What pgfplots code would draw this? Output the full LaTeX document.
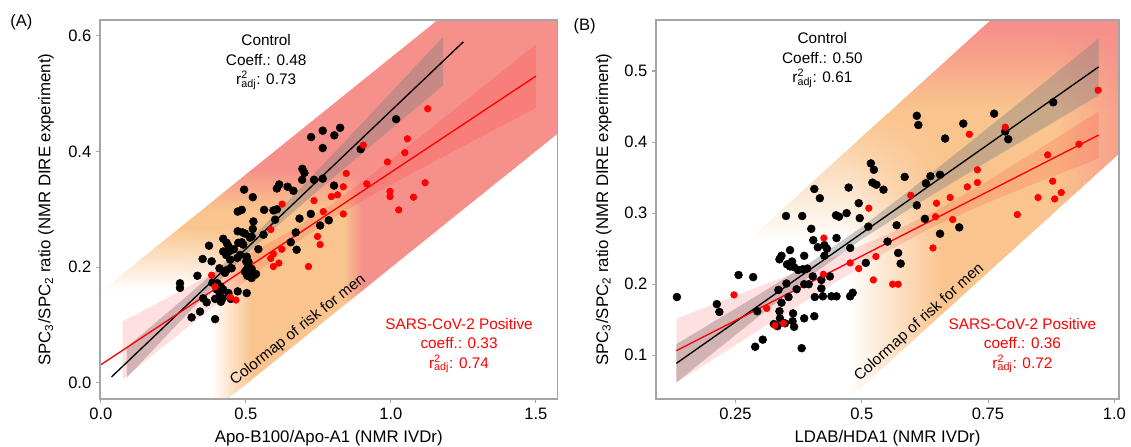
\documentclass[border=0pt]{standalone}
\usepackage{fontspec}
\setmainfont{Liberation Sans}
\usepackage{pgfplots}
\pgfplotsset{compat=1.18}
\usetikzlibrary{fadings}
\definecolor{bandorange}{RGB}{250,196,142}
\definecolor{bandred}{RGB}{246,144,138}
\definecolor{bandsalmon}{RGB}{247,157,139}
\definecolor{spinegray}{RGB}{165,165,165}
\definecolor{pred}{RGB}{255,0,0}

% horizontal colormaps of the two bands (25bp = left edge, 75bp = right edge of the path)
\pgfdeclarehorizontalshading{bandA}{100bp}{color(0bp)=(white); color(28.03bp)=(white);
  color(33.33bp)=(bandorange); color(45.45bp)=(bandorange); color(47.73bp)=(bandred); color(100bp)=(bandred)}
\pgfdeclarehorizontalshading{bandB}{100bp}{color(0bp)=(white); color(41.46bp)=(white);
  color(53.05bp)=(bandorange); color(66.46bp)=(bandorange); color(75bp)=(bandsalmon); color(100bp)=(bandsalmon)}

\pgfplotsset{
  panel/.style={
    scale only axis, height=284.25pt, axis on top,
    axis line style={spinegray, line width=0.8pt},
    tick align=outside, tick pos=left, major tick length=3pt,
    tick style={spinegray, line width=0.8pt},
    ticklabel style={font=\fontsize{12.4}{14}\selectfont},
    label style={font=\fontsize{12.6}{15}\selectfont},
    ylabel={SPC\textsubscript{3}/SPC\textsubscript{2} ratio (NMR DIRE experiment)},
    xlabel style={at={(axis description cs:0.5,-0.103)}, anchor=center},
  },
  ctl/.style={only marks, mark=*, color=black, mark size=2.95pt, mark options={line width=0.4pt}},
  pos/.style={only marks, mark=*, color=pred, mark size=2.5pt, mark options={line width=0.4pt}},
  band/.style={draw=none, forget plot},
  cigray/.style={draw=none, fill=gray, fill opacity=0.4},
  cired/.style={draw=none, fill=pred, fill opacity=0.12},
}
\newcommand{\annot}{\fontsize{11.5}{14.6}\selectfont}
\newcommand{\radj}{r\rlap{\textsuperscript{2}}\textsubscript{adj}}

\begin{document}
\begin{tikzpicture}
\useasboundingbox (0,0) rectangle (848.25pt,334.5pt);

% ---------------- panel A ----------------
\begin{axis}[panel, at={(75pt,35.25pt)}, anchor=south west, width=343.1pt,
  xmin=-0.0028, xmax=1.5743, ymin=-0.0282, ymax=0.6275,
  xtick={0,0.5,1,1.5}, xticklabels={0.0,0.5,1.0,1.5},
  ytick={0,0.2,0.4,0.6}, yticklabels={0.0,0.2,0.4,0.6},
  xlabel={Apo-B100/Apo-A1 (NMR IVDr)},
  ylabel style={at={(axis description cs:-0.118,0.5)}, anchor=center},
]
% colormap band
\addplot[band, shading=bandA] coordinates {(0.30,-0.0838)(1.62,0.4495)(1.62,0.8125)(0.30,0.2792)} -- cycle;
\addplot[band, fill=bandorange, path fading=south] coordinates {(0.005,0.16)(0.84,0.16)(0.84,0.27)(0.277,0.27)} -- cycle;
\addplot[band, fill=bandorange] coordinates {(0.265,0.265)(0.84,0.265)(0.84,0.37)(0.525,0.37)} -- cycle;
\addplot[band, fill=bandred, path fading=south] coordinates {(0.351,0.30)(1.25,0.30)(1.423,0.37)(0.525,0.37)} -- cycle;
\addplot[band, fill=bandred] coordinates {(0.512,0.365)(1.411,0.365)(1.62,0.4495)(1.62,0.70)(1.341,0.70)} -- cycle;

% control
\addplot[ctl] coordinates {
(0.725,0.425)(0.765,0.436)(0.805,0.428)(0.825,0.441)(0.765,0.406)
(0.695,0.370)(0.702,0.363)(0.694,0.351)(0.735,0.351)(0.765,0.353)
(0.494,0.334)(0.524,0.321)(0.607,0.336)(0.615,0.343)(0.644,0.339)(0.664,0.332)
(0.486,0.299)(0.472,0.296)(0.563,0.299)(0.595,0.298)(0.607,0.300)(0.601,0.282)
(0.526,0.279)(0.685,0.284)(0.724,0.292)(0.786,0.281)(0.756,0.272)
(0.524,0.266)(0.497,0.258)(0.514,0.251)(0.491,0.239)(0.543,0.231)
(0.655,0.243)(0.675,0.230)(0.672,0.260)(0.503,0.218)
(1.018,0.456)(0.896,0.404)(0.804,0.341)
(0.472,0.262)(0.489,0.260)(0.422,0.249)(0.434,0.242)(0.440,0.236)(0.446,0.228)(0.459,0.231)
(0.474,0.242)(0.486,0.243)(0.373,0.237)(0.351,0.214)(0.382,0.210)
(0.422,0.227)(0.432,0.221)(0.446,0.213)(0.451,0.198)(0.434,0.195)(0.428,0.190)(0.409,0.198)
(0.471,0.216)(0.480,0.221)(0.501,0.210)(0.505,0.198)(0.497,0.192)(0.505,0.185)(0.514,0.184)
(0.520,0.181)(0.529,0.186)(0.535,0.188)(0.333,0.185)(0.273,0.172)(0.273,0.164)
(0.402,0.172)(0.414,0.166)(0.400,0.161)(0.409,0.150)(0.420,0.146)(0.414,0.140)(0.394,0.145)
(0.422,0.161)(0.440,0.155)(0.448,0.145)(0.472,0.158)(0.503,0.155)
(0.353,0.146)(0.365,0.139)(0.342,0.123)(0.313,0.113)(0.394,0.110)
(0.520,0.253)(0.385,0.173)(0.561,0.256)(0.509,0.209)(0.520,0.197)
};
% SARS-CoV-2 positive
\addplot[pos] coordinates {
(0.625,0.309)(0.586,0.265)(0.735,0.315)(0.767,0.296)(0.795,0.322)(0.816,0.325)
(0.846,0.362)(0.836,0.339)(0.836,0.292)(0.747,0.253)(0.756,0.239)(0.624,0.231)
(0.595,0.223)(0.586,0.215)(0.614,0.207)(0.595,0.201)(0.716,0.201)(1.127,0.474)
(0.905,0.411)(1.057,0.422)(1.048,0.398)(0.988,0.382)(0.917,0.344)(1.118,0.346)
(0.997,0.331)(0.997,0.322)(1.078,0.321)(1.027,0.299)(0.382,0.186)(0.394,0.166)
(0.446,0.148)(0.466,0.143)
};
% confidence bands
\addplot[cigray] coordinates {
(0.09,0.0619)(0.2,0.1085)(0.3,0.1513)(0.4,0.1952)(0.5,0.2413)(0.6,0.2908)
(0.7,0.3425)(0.8,0.3953)(0.9,0.4485)(1.0,0.5019)(1.1,0.5555)(1.18,0.5983)
(1.18,0.5143)(1.1,0.4807)(1.0,0.4387)(0.9,0.3965)(0.8,0.3541)(0.7,0.3113)
(0.6,0.2674)(0.5,0.2213)(0.4,0.1718)(0.3,0.1201)(0.2,0.0673)(0.09,0.0087)
} -- cycle;
\addplot[cired] coordinates {
(0.075,0.106)(0.2,0.1389)(0.35,0.1788)(0.5,0.2191)(0.65,0.2615)(0.8,0.3099)
(0.95,0.3661)(1.1,0.425)(1.3,0.5051)(1.5,0.5855)
(1.5,0.4755)(1.3,0.4227)(1.1,0.3696)(0.95,0.3287)(0.8,0.2849)(0.65,0.2335)
(0.5,0.1759)(0.35,0.1164)(0.2,0.0563)(0.075,0.006)
} -- cycle;
\addplot[black, line width=1pt] coordinates {(0.037,0.0100)(1.25,0.5898)};
\addplot[pred, line width=1pt] coordinates {(-0.003,0.030)(1.5,0.5305)};

\node[font=\annot, align=center] at (axis cs:0.57,0.555) {Control\\Coeff.: 0.48\\\radj: 0.73};
\node[font=\annot, align=center, text=pred] at (axis cs:1.235,0.064) {SARS-CoV-2 Positive\\coeff.: 0.33\\\radj: 0.74};
\node[font=\annot, rotate=38.5] at (axis cs:0.68,0.091) {Colormap of risk for men};
\end{axis}

% ---------------- panel B ----------------
\begin{axis}[panel, at={(492pt,35.25pt)}, anchor=south west, width=347.25pt,
  xmin=0.0926, xmax=1.0093, ymin=0.0385, ymax=0.5718,
  xtick={0.25,0.5,0.75,1}, xticklabels={0.25,0.5,0.75,1.0},
  ytick={0.1,0.2,0.3,0.4,0.5}, yticklabels={0.1,0.2,0.3,0.4,0.5},
  xlabel={LDAB/HDA1 (NMR IVDr)},
  ylabel style={at={(axis description cs:-0.113,0.5)}, anchor=center},
]
\addplot[band, shading=bandB] coordinates {(0.20,-0.1377)(1.02,0.3904)(1.02,0.7419)(0.20,0.2138)} -- cycle;
\addplot[band, fill=bandorange, path fading=south] coordinates {(0.272,0.26)(0.8177,0.26)(0.88,0.2987)(0.88,0.44)(0.551,0.44)} -- cycle;
\addplot[band, fill=bandorange] coordinates {(0.5435,0.435)(0.88,0.435)(0.88,0.60)(0.7997,0.60)} -- cycle;
\addplot[band, fill=bandred, path fading=south] coordinates {(0.5668,0.45)(1.02,0.45)(1.02,0.56)(0.7376,0.56)} -- cycle;
\addplot[band, fill=bandred] coordinates {(0.7298,0.555)(1.02,0.555)(1.02,0.65)(0.8773,0.65)} -- cycle;

\addplot[ctl] coordinates {
(0.134,0.182)(0.213,0.172)(0.218,0.161)(0.256,0.213)(0.285,0.210)(0.289,0.112)
(0.304,0.122)(0.293,0.162)(0.335,0.192)(0.337,0.235)(0.341,0.240)(0.352,0.228)
(0.358,0.225)(0.362,0.232)(0.366,0.224)(0.351,0.201)(0.341,0.174)(0.337,0.162)
(0.338,0.152)(0.326,0.144)(0.333,0.141)(0.348,0.145)(0.363,0.148)(0.366,0.140)
(0.364,0.159)(0.386,0.152)(0.355,0.182)(0.371,0.193)(0.386,0.200)(0.381,0.110)
(0.386,0.240)(0.374,0.220)(0.383,0.221)(0.392,0.222)(0.400,0.278)(0.404,0.262)
(0.406,0.334)(0.417,0.321)(0.413,0.252)(0.426,0.255)(0.431,0.250)(0.420,0.206)
(0.420,0.194)(0.407,0.182)(0.406,0.155)(0.423,0.183)(0.440,0.183)(0.450,0.183)
(0.477,0.183)(0.482,0.188)(0.437,0.211)(0.450,0.265)(0.449,0.297)(0.455,0.295)
(0.470,0.300)(0.477,0.251)(0.494,0.314)(0.496,0.293)(0.513,0.281)(0.474,0.336)
(0.508,0.230)(0.518,0.370)(0.524,0.361)(0.521,0.343)(0.529,0.340)(0.543,0.333)
(0.551,0.260)(0.569,0.283)(0.572,0.244)(0.577,0.229)(0.585,0.351)(0.609,0.437)
(0.612,0.424)(0.627,0.342)(0.636,0.352)(0.609,0.311)(0.625,0.292)(0.655,0.354)
(0.655,0.271)(0.665,0.405)(0.693,0.280)(0.701,0.426)(0.762,0.440)(0.879,0.456)
(0.784,0.415)(0.790,0.404)(0.350,0.296)(0.382,0.296)(0.358,0.248)(0.426,0.240)
(0.403,0.211)(0.395,0.200)
};
\addplot[pos] coordinates {
(0.247,0.185)(0.312,0.166)(0.328,0.142)(0.345,0.145)(0.425,0.265)(0.424,0.214)
(0.477,0.230)(0.494,0.222)(0.514,0.307)(0.523,0.206)(0.528,0.239)(0.561,0.200)
(0.572,0.200)(0.597,0.325)(0.641,0.251)(0.648,0.314)(0.646,0.295)(0.675,0.322)
(0.680,0.291)(0.709,0.337)(0.713,0.411)(0.784,0.421)(0.729,0.361)(0.729,0.343)
(0.808,0.298)(0.868,0.382)(0.878,0.345)(0.849,0.322)(0.882,0.320)(0.895,0.329)
(0.968,0.473)(0.930,0.397)
};
\addplot[cigray] coordinates {
(0.133,0.1157)(0.2,0.1443)(0.3,0.1871)(0.4,0.2314)(0.5,0.2803)(0.6,0.3349)
(0.7,0.3915)(0.8,0.4486)(0.9,0.506)(0.969,0.5458)
(0.969,0.4658)(0.9,0.4366)(0.8,0.3942)(0.7,0.3517)(0.6,0.3085)(0.5,0.2633)
(0.4,0.2124)(0.3,0.1569)(0.2,0.1001)(0.133,0.0617)
} -- cycle;
\addplot[cired] coordinates {
(0.133,0.1515)(0.25,0.1838)(0.35,0.2116)(0.45,0.2399)(0.55,0.2697)(0.65,0.3046)
(0.75,0.3459)(0.85,0.3898)(0.969,0.4429)
(0.969,0.3769)(0.85,0.3438)(0.75,0.3151)(0.65,0.2838)(0.55,0.2461)(0.45,0.2033)
(0.35,0.159)(0.25,0.1142)(0.133,0.0615)
} -- cycle;
\addplot[black, line width=1pt] coordinates {(0.133,0.0887)(0.969,0.5058)};
\addplot[pred, line width=1pt] coordinates {(0.133,0.1065)(0.969,0.4099)};

\node[font=\annot, align=center] at (axis cs:0.422,0.5155) {Control\\Coeff.: 0.50\\\radj: 0.61};
\node[font=\annot, align=center, text=pred] at (axis cs:0.818,0.1135) {SARS-CoV-2 Positive\\coeff.: 0.36\\\radj: 0.72};
\node[font=\annot, rotate=42] at (axis cs:0.614,0.146) {Colormap of risk for men};
\end{axis}

\node[font=\fontsize{12.4}{14}\selectfont] at (16.1pt,317.5pt) {(A)};
\node[font=\fontsize{12.4}{14}\selectfont] at (438.4pt,314.5pt) {(B)};
\end{tikzpicture}
\end{document}
